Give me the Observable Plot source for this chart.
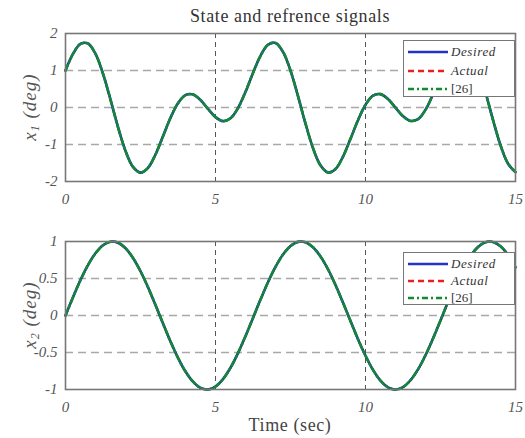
<!DOCTYPE html>
<html>
<head>
<meta charset="utf-8">
<script src="https://cdn.jsdelivr.net/npm/d3@7"></script>
<script src="https://cdn.jsdelivr.net/npm/@observablehq/plot@0.6"></script>
<style>
  html, body { margin: 0; padding: 0; background: #fff; }
  #wrap { position: relative; width: 525px; height: 438px; font-family: "Liberation Serif", "DejaVu Serif", serif; color: #333; }
  #wrap svg text { font-family: "Liberation Serif", "DejaVu Serif", serif !important; }
  #wrap > .plot { position: absolute; left: 0; }
  .title { position: absolute; left: 65px; width: 450px; text-align: center; font-size: 18px; letter-spacing: 0.6px; color: #333; line-height: 20px; }
  .xlabel { position: absolute; left: 65px; width: 450px; text-align: center; font-size: 18px; letter-spacing: 0.6px; color: #444; line-height: 20px; }
  .ylabel { position: absolute; width: 120px; height: 22px; line-height: 22px; text-align: center; font-size: 19px; font-style: italic; letter-spacing: 1px; color: #555; transform: translate(-50%, -50%) rotate(-90deg); }
  .ylabel sub { font-size: 12px; vertical-align: -3px; line-height: 0; }
  .legend { position: absolute; background: #fff; border: 1.5px solid #777; box-sizing: border-box; font-family: "Liberation Serif", serif; font-size: 13px; color: #333; padding: 2px 2px 0 3px; }
  .legend .row { display: flex; align-items: center; height: 18px; }
  .legend svg { margin-right: 2px; }
</style>
</head>
<body>
<div id="wrap"></div>
<script>
// ---- data ----
const titleText = "State and refrence signals";
const xLabelText = "Time (sec)";
const yLabelVars = ["x", "x"];
const yLabelSubs = ["1", "2"];
const yLabelUnit = " (deg)";
const seriesNames = ["Desired", "Actual", "[26]"];
const seriesItalic = [true, true, false];
const seriesColors = ["#2233c8", "#e82020", "#138a2e"];
const seriesDash = [null, "6,4", "6,3,2,3"];

const xTicks = [0, 5, 10, 15];
const y1Ticks = [-2, -1, 0, 1, 2];
const y2Ticks = [-1, -0.5, 0, 0.5, 1];

const time = [0,0.25,0.5,0.75,1,1.25,1.5,1.75,2,2.25,2.5,2.75,3,3.25,3.5,3.75,4,4.25,4.5,4.75,5,5.25,5.5,5.75,6,6.25,6.5,6.75,7,7.25,7.5,7.75,8,8.25,8.5,8.75,9,9.25,9.5,9.75,10,10.25,10.5,10.75,11,11.25,11.5,11.75,12,12.25,12.5,12.75,13,13.25,13.5,13.75,14,14.25,14.5,14.75,15];

const x1Desired = [1.000,1.448,1.719,1.729,1.449,0.913,0.212,-0.529,-1.173,-1.606,-1.760,-1.630,-1.269,-0.779,-0.279,0.118,0.335,0.352,0.201,-0.037,-0.260,-0.368,-0.291,-0.014,0.423,0.933,1.397,1.697,1.745,1.503,0.997,0.306,-0.434,-1.098,-1.563,-1.757,-1.662,-1.328,-0.847,-0.343,0.074,0.319,0.361,0.227,-0.005,-0.234,-0.363,-0.315,-0.062,0.361,0.866,1.342,1.670,1.755,1.551,1.076,0.408,-0.336,-1.019,-1.516,-1.748];
const x1Actual = [1.000,1.448,1.719,1.729,1.449,0.913,0.212,-0.529,-1.173,-1.606,-1.760,-1.630,-1.269,-0.779,-0.279,0.118,0.335,0.352,0.201,-0.037,-0.260,-0.368,-0.291,-0.014,0.423,0.933,1.397,1.697,1.745,1.503,0.997,0.306,-0.434,-1.098,-1.563,-1.757,-1.662,-1.328,-0.847,-0.343,0.074,0.319,0.361,0.227,-0.005,-0.234,-0.363,-0.315,-0.062,0.361,0.866,1.342,1.670,1.755,1.551,1.076,0.408,-0.336,-1.019,-1.516,-1.748];
const x1Ref26 = [1.000,1.448,1.719,1.729,1.449,0.913,0.212,-0.529,-1.173,-1.606,-1.760,-1.630,-1.269,-0.779,-0.279,0.118,0.335,0.352,0.201,-0.037,-0.260,-0.368,-0.291,-0.014,0.423,0.933,1.397,1.697,1.745,1.503,0.997,0.306,-0.434,-1.098,-1.563,-1.757,-1.662,-1.328,-0.847,-0.343,0.074,0.319,0.361,0.227,-0.005,-0.234,-0.363,-0.315,-0.062,0.361,0.866,1.342,1.670,1.755,1.551,1.076,0.408,-0.336,-1.019,-1.516,-1.748];

const x2Desired = [0,0.247,0.479,0.682,0.841,0.949,0.997,0.984,0.909,0.778,0.598,0.382,0.141,-0.108,-0.351,-0.572,-0.757,-0.895,-0.978,-0.999,-0.959,-0.859,-0.706,-0.508,-0.279,-0.033,0.215,0.450,0.657,0.823,0.938,0.995,0.989,0.922,0.798,0.625,0.412,0.174,-0.075,-0.320,-0.544,-0.735,-0.880,-0.970,-1.000,-0.968,-0.875,-0.729,-0.537,-0.311,-0.066,0.183,0.420,0.632,0.804,0.926,0.991,0.994,0.935,0.818,0.650];
const x2Actual = [0,0.247,0.479,0.682,0.841,0.949,0.997,0.984,0.909,0.778,0.598,0.382,0.141,-0.108,-0.351,-0.572,-0.757,-0.895,-0.978,-0.999,-0.959,-0.859,-0.706,-0.508,-0.279,-0.033,0.215,0.450,0.657,0.823,0.938,0.995,0.989,0.922,0.798,0.625,0.412,0.174,-0.075,-0.320,-0.544,-0.735,-0.880,-0.970,-1.000,-0.968,-0.875,-0.729,-0.537,-0.311,-0.066,0.183,0.420,0.632,0.804,0.926,0.991,0.994,0.935,0.818,0.650];
const x2Ref26 = [0,0.247,0.479,0.682,0.841,0.949,0.997,0.984,0.909,0.778,0.598,0.382,0.141,-0.108,-0.351,-0.572,-0.757,-0.895,-0.978,-0.999,-0.959,-0.859,-0.706,-0.508,-0.279,-0.033,0.215,0.450,0.657,0.823,0.938,0.995,0.989,0.922,0.798,0.625,0.412,0.174,-0.075,-0.320,-0.544,-0.735,-0.880,-0.970,-1.000,-0.968,-0.875,-0.729,-0.537,-0.311,-0.066,0.183,0.420,0.632,0.804,0.926,0.991,0.994,0.935,0.818,0.650];

// ---- build ----
const wrap = document.getElementById("wrap");
const FONT = "'Liberation Serif', 'DejaVu Serif', serif";

function toRows(values) { return time.map((t, i) => ({t, v: values[i]})); }

function panel(series, yDomain, yTicks, height, marginBottom) {
  const [desired, actual, ref] = series.map(toRows);
  const lineOpts = (k) => ({x: "t", y: "v", curve: "catmull-rom", stroke: seriesColors[k],
    strokeWidth: k === 1 ? 2 : 2.6, strokeDasharray: seriesDash[k] || undefined});
  return Plot.plot({
    width: 525, height,
    marginLeft: 65, marginRight: 10, marginTop: 33, marginBottom,
    style: {fontFamily: FONT, background: "transparent", overflow: "visible"},
    x: {domain: [0, 15]},
    y: {domain: yDomain},
    marks: [
      Plot.gridY(yTicks.filter(d => d !== yDomain[0] && d !== yDomain[1]),
        {stroke: "#a8a8a8", strokeOpacity: 1, strokeWidth: 1.6, strokeDasharray: "8,5"}),
      Plot.gridX([5, 10], {stroke: "#555", strokeOpacity: 1, strokeWidth: 1, strokeDasharray: "5,4"}),
      Plot.line(actual, lineOpts(1)),
      Plot.line(desired, lineOpts(0)),
      Plot.line(ref, lineOpts(2)),
      Plot.frame({stroke: "#777", strokeWidth: 1.6}),
      Plot.axisX(xTicks, {tickSize: 0, tickPadding: 12, fontSize: 15, fontFamily: FONT, fontStyle: "italic", fill: "#555",
        tickFormat: d => String(d), label: null}),
      Plot.axisY(yTicks, {tickSize: 0, tickPadding: 8, fontSize: 15, fontFamily: FONT, fontStyle: "italic", fill: "#555",
        tickFormat: d => String(d), label: null})
    ]
  });
}

const topPanel = panel([x1Desired, x1Actual, x1Ref26], [-2, 2], y1Ticks, 215, 34);
topPanel.classList.add("plot");
topPanel.style.top = "0px";
wrap.appendChild(topPanel);

const bottomPanel = panel([x2Desired, x2Actual, x2Ref26], [-1, 1], y2Ticks, 230, 49);
bottomPanel.classList.add("plot");
bottomPanel.style.top = "208px";
wrap.appendChild(bottomPanel);

// title and axis labels
const titleDiv = document.createElement("div");
titleDiv.className = "title"; titleDiv.style.top = "6px"; titleDiv.textContent = titleText;
wrap.appendChild(titleDiv);
const xl = document.createElement("div");
xl.className = "xlabel"; xl.style.top = "415px"; xl.textContent = xLabelText;
wrap.appendChild(xl);

function yLabel(k, cx, cy) {
  const d = document.createElement("div");
  d.className = "ylabel";
  d.style.left = cx + "px"; d.style.top = cy + "px";
  const v = document.createElement("span"); v.textContent = yLabelVars[k];
  const s = document.createElement("sub"); s.textContent = yLabelSubs[k];
  const u = document.createElement("span"); u.textContent = yLabelUnit;
  d.append(v, s, u);
  wrap.appendChild(d);
}
yLabel(0, 30, 107);
yLabel(1, 30, 315);

// legends
function legend(left, topPx, height, rowH) {
  const box = document.createElement("div");
  box.className = "legend";
  Object.assign(box.style, {left: left + "px", top: topPx + "px", width: "112px", height: height + "px"});
  seriesNames.forEach((name, k) => {
    const row = document.createElement("div");
    row.className = "row"; row.style.height = rowH + "px";
    const ns = "http://www.w3.org/2000/svg";
    const s = document.createElementNS(ns, "svg");
    s.setAttribute("width", 42); s.setAttribute("height", 6);
    const l = document.createElementNS(ns, "line");
    l.setAttribute("x1", 1); l.setAttribute("x2", 41); l.setAttribute("y1", 3); l.setAttribute("y2", 3);
    l.setAttribute("stroke", seriesColors[k]); l.setAttribute("stroke-width", 2.6);
    if (seriesDash[k]) l.setAttribute("stroke-dasharray", seriesDash[k]);
    s.appendChild(l);
    const tx = document.createElement("span");
    tx.textContent = name;
    tx.style.fontStyle = seriesItalic[k] ? "italic" : "normal";
    tx.style.letterSpacing = seriesItalic[k] ? "0.6px" : "0";
    row.appendChild(s); row.appendChild(tx);
    box.appendChild(row);
  });
  wrap.appendChild(box);
}
legend(403, 40, 57, 18.5);
legend(403, 252, 53, 17);
</script>
</body>
</html>
